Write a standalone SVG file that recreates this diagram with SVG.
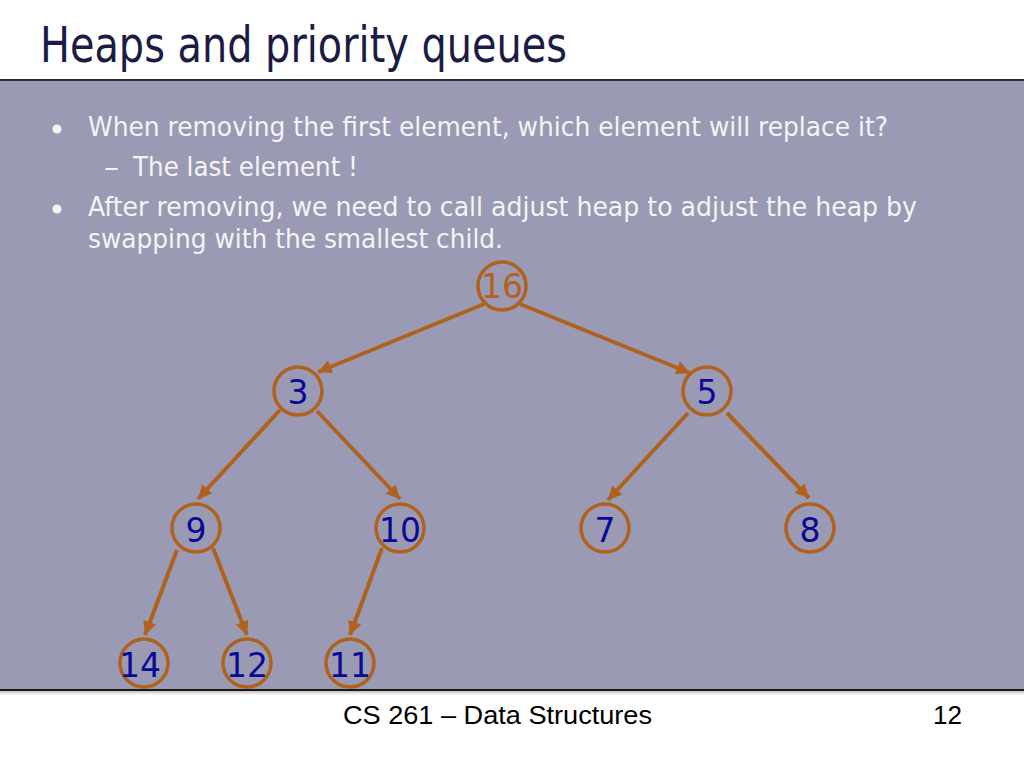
<svg xmlns="http://www.w3.org/2000/svg" width="1024" height="768" viewBox="0 0 1024 768">
<defs>
<style>
.title{font-family:Tahoma,"DejaVu Sans",sans-serif;font-size:49px;fill:#1b1b45}
.body{font-family:"DejaVu Sans",sans-serif;font-size:26.5px;fill:#f4f4f4}
.foot{font-family:"Liberation Sans",Arial,sans-serif;font-size:25px;fill:#000}
.node circle{fill:none;stroke:#b0621c;stroke-width:3.5}
.node text{font-family:"DejaVu Sans",sans-serif;font-size:33px;fill:#0a0a96;text-anchor:middle}
.edge{stroke:#b0621c;stroke-width:4;fill:none;marker-end:url(#ah)}
</style>
<marker id="ah" viewBox="0 0 10 10" refX="10" refY="5" markerWidth="4" markerHeight="3.4" orient="auto" markerUnits="strokeWidth">
<path d="M0,0 L10,5 L0,10 z" fill="#b0621c"/>
</marker>
<linearGradient id="sh" x1="0" y1="0" x2="0" y2="1">
<stop offset="0" stop-color="#000" stop-opacity="0.25"/>
<stop offset="1" stop-color="#000" stop-opacity="0"/>
</linearGradient>
</defs>
<rect x="0" y="0" width="1024" height="768" fill="#fff"/>
<rect x="0" y="80" width="1024" height="610" fill="#9a9ab4"/>
<line x1="0" y1="80" x2="1024" y2="80" stroke="#2a2a2a" stroke-width="2"/>
<line x1="0" y1="690" x2="1024" y2="690" stroke="#1a1a1a" stroke-width="2"/>
<rect x="0" y="691" width="1024" height="4" fill="url(#sh)"/>
<text class="title" x="40" y="62" textLength="527" lengthAdjust="spacingAndGlyphs">Heaps and priority queues</text>
<g id="bullets">
<circle cx="57" cy="129" r="4.5" fill="#f4f4f4"/>
<text class="body" x="88" y="136" textLength="800" lengthAdjust="spacingAndGlyphs">When removing the first element, which element will replace it?</text>
<text class="body" x="104" y="176" textLength="15" lengthAdjust="spacingAndGlyphs">–</text>
<text class="body" x="133" y="176" textLength="225" lengthAdjust="spacingAndGlyphs">The last element !</text>
<circle cx="57" cy="209" r="4.5" fill="#f4f4f4"/>
<text class="body" x="88" y="216" textLength="829" lengthAdjust="spacingAndGlyphs">After removing, we need to call adjust heap to adjust the heap by</text>
<text class="body" x="88" y="248" textLength="415" lengthAdjust="spacingAndGlyphs">swapping with the smallest child.</text>
</g>
<g id="connectors">
<line class="edge" x1="484" y1="304" x2="318" y2="372"/>
<line class="edge" x1="520" y1="304" x2="690" y2="373"/>
<line class="edge" x1="280" y1="410" x2="198" y2="499"/>
<line class="edge" x1="317" y1="411" x2="400" y2="499"/>
<line class="edge" x1="688" y1="413" x2="608" y2="500"/>
<line class="edge" x1="727" y1="413" x2="809" y2="498"/>
<line class="edge" x1="177" y1="550" x2="145" y2="635"/>
<line class="edge" x1="213" y1="548" x2="247" y2="635"/>
<line class="edge" x1="382" y1="548" x2="350" y2="635"/>
</g>
<g id="n16" class="node"><circle cx="502" cy="286" r="24"/><text x="502" y="298" style="fill:#b0621c">16</text></g>
<g id="n3" class="node"><circle cx="298" cy="391" r="24"/><text x="298" y="404">3</text></g>
<g id="n5" class="node"><circle cx="707" cy="391" r="24"/><text x="707" y="404">5</text></g>
<g id="n9" class="node"><circle cx="196" cy="528" r="24"/><text x="196" y="542">9</text></g>
<g id="n10" class="node"><circle cx="400" cy="528" r="24"/><text x="400" y="542">10</text></g>
<g id="n7" class="node"><circle cx="605" cy="528" r="24"/><text x="605" y="542">7</text></g>
<g id="n8" class="node"><circle cx="810" cy="528" r="24"/><text x="810" y="542">8</text></g>
<g id="n14" class="node"><circle cx="144" cy="663" r="24"/><text x="140" y="677">14</text></g>
<g id="n12" class="node"><circle cx="247" cy="663" r="24"/><text x="247" y="677">12</text></g>
<g id="n11" class="node"><circle cx="350" cy="663" r="24"/><text x="350" y="677">11</text></g>
<text class="foot" x="343" y="724" textLength="309" lengthAdjust="spacingAndGlyphs">CS 261 – Data Structures</text>
<text class="foot" x="933" y="724" textLength="29" lengthAdjust="spacingAndGlyphs">12</text>
</svg>
